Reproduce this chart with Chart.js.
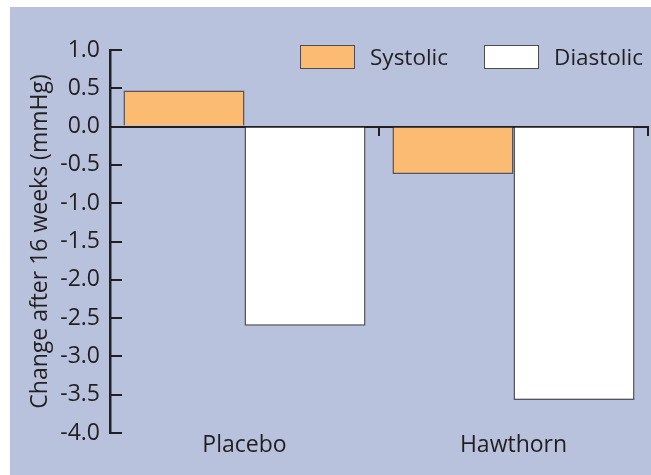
<!DOCTYPE html>
<html>
<head>
<meta charset="utf-8">
<script src="https://cdn.jsdelivr.net/npm/chart.js@4"></script>
<style>
html,body{margin:0;padding:0;background:#fff;}
#wrap{position:absolute;left:10px;top:7px;width:641px;height:468px;background:#b8c2dc;}
#chart{position:absolute;left:0;top:0;}
#legend{position:absolute;right:8px;top:38px;display:flex;align-items:center;font:22.5px "Open Sans";line-height:24px;color:#231f20;}
.legend-item{display:flex;align-items:center;margin-left:36px;}
.box{width:55px;height:24px;box-sizing:border-box;border:1.5px solid #4d4d4f;margin-right:15px;}
</style>
</head>
<body>
<div id="wrap">
<canvas id="chart" width="641" height="468"></canvas>
<div id="legend"></div>
</div>
<script>
/* ===== DATA ===== */
const categories = ["Placebo","Hawthorn"];
const systolic = [0.47,-0.62];
const diastolic = [-2.6,-3.57];
const yTicks = [1.0,0.5,0.0,-0.5,-1.0,-1.5,-2.0,-2.5,-3.0,-3.5,-4.0];

const series = [
{label:"Systolic",data:systolic,color:"#fbbb72"},
{label:"Diastolic",data:diastolic,color:"#ffffff"}
];

const ink = "#231f20";
Chart.defaults.font.family = "'Open Sans'";
Chart.defaults.font.size = 23;
Chart.defaults.color = ink;

/* ===== BAR ===== */
new Chart(document.getElementById("chart"),{
type:"bar",
data:{
labels:categories,
datasets:series.map(s=>({
label:s.label,
data:s.data,
backgroundColor:s.color,
borderColor:"#55555a",
borderWidth:1.5,
categoryPercentage:0.9,
barPercentage:1.0
}))
},
options:{
responsive:false,
animation:false,
layout:{padding:{top:43,right:3,bottom:0,left:0}},
plugins:{legend:{display:false},tooltip:{enabled:false}},
scales:{
x:{
offset:true,
grid:{display:false},
border:{display:false},
ticks:{padding:-9},
afterFit:(s)=>{s.height=42;}
},
/* zero line with ticks at category boundaries */
x2:{
type:"category",
position:{y:0},
offset:true,
z:1,
grid:{offset:true,drawOnChartArea:false,drawTicks:true,tickLength:8,color:ink,lineWidth:2},
border:{display:true,color:ink,width:2},
ticks:{display:false}
},
y:{
min:-4,
max:1,
afterBuildTicks:(s)=>{s.ticks=yTicks.map(v=>({value:v}));},
afterFit:(s)=>{s.width=100;},
grid:{drawOnChartArea:false,drawTicks:true,tickLength:-12,color:ink,lineWidth:2},
border:{display:true,color:ink,width:2.5},
ticks:{padding:22,callback:(v)=>Number(v).toFixed(1)},
title:{display:true,text:"Change after 16 weeks (mmHg)",padding:{top:17,bottom:0},color:ink}
}
}
}
});

/* custom legend */
const legend = document.getElementById("legend");
series.forEach(s=>{
let el=document.createElement("div");
el.className="legend-item";
el.innerHTML=`<div class="box" style="background:${s.color}"></div>${s.label}`;
legend.appendChild(el);
});
</script>
</body>
</html>
